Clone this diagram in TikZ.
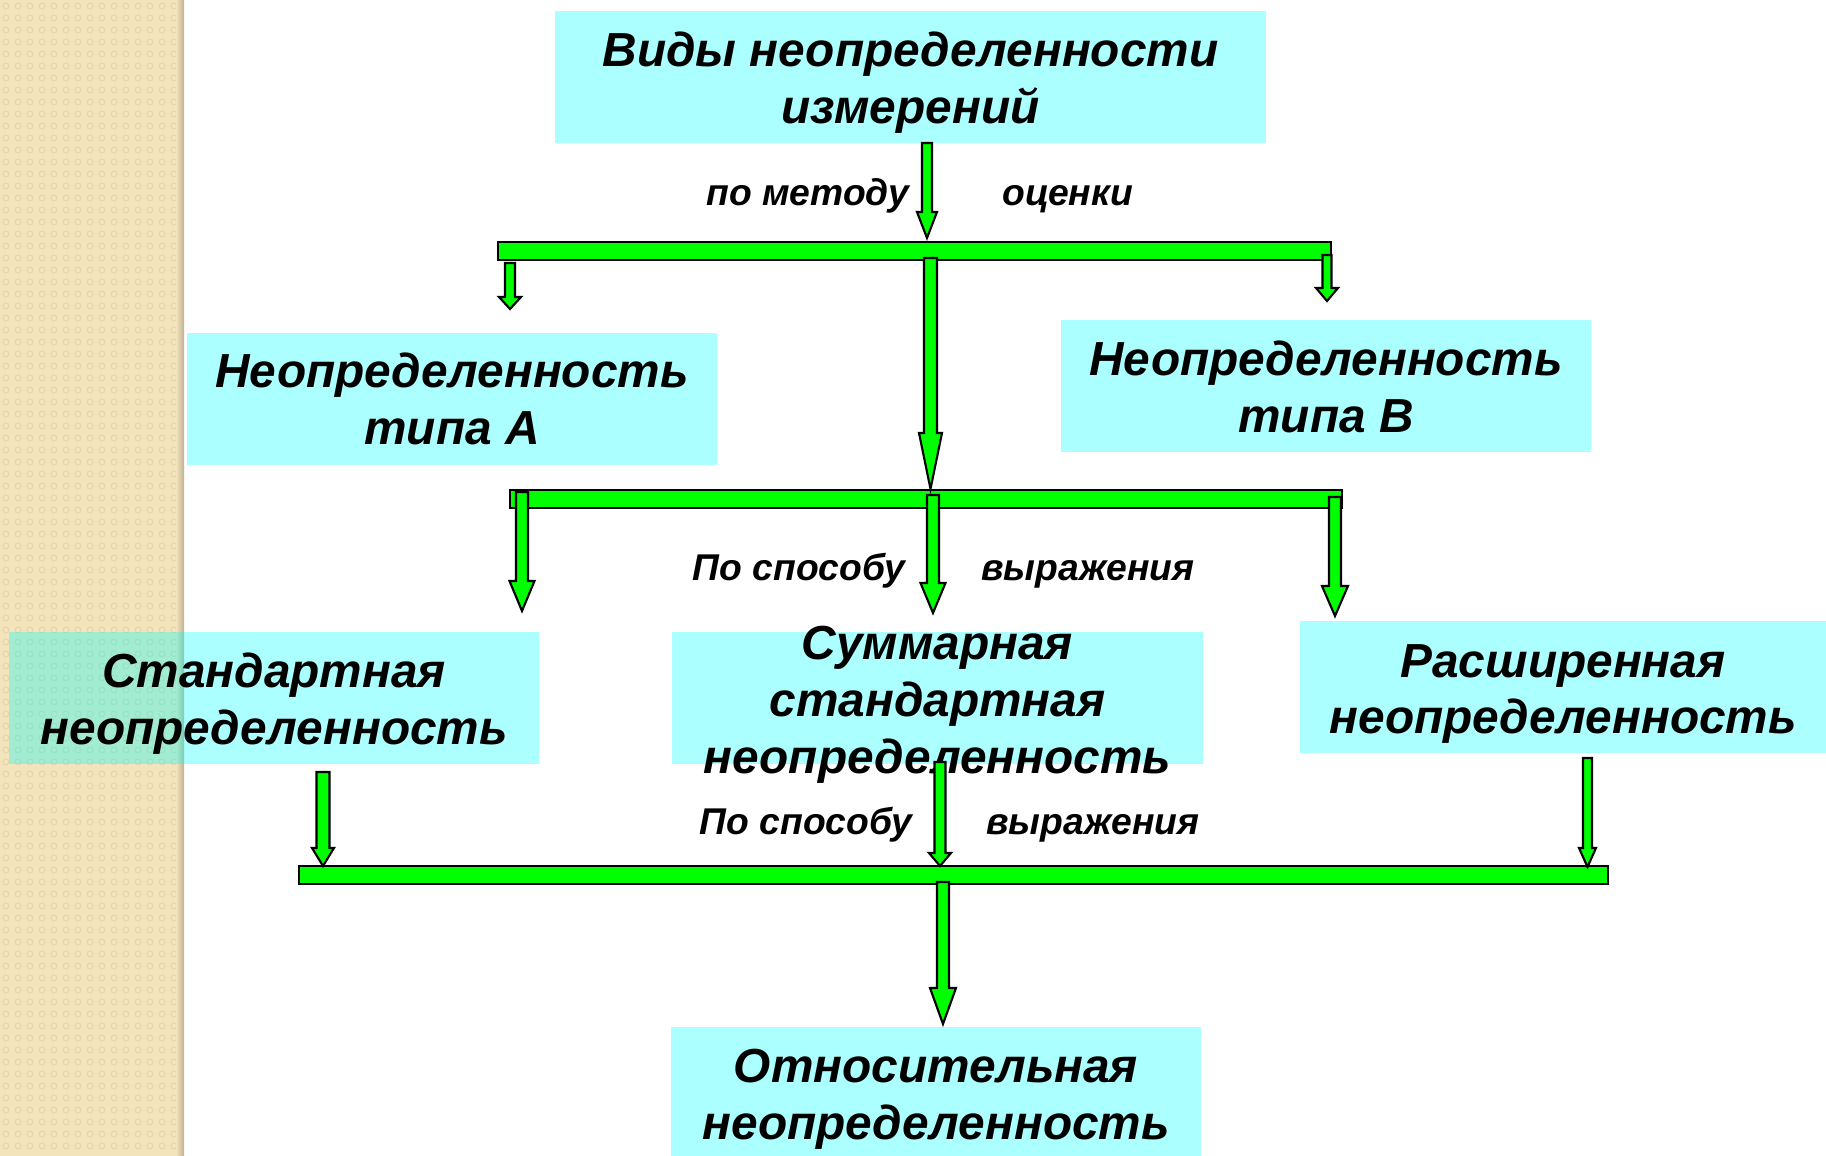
\documentclass[tikz,border=0pt]{standalone}
\usepackage{fontspec}
\setmainfont{Liberation Sans}
\usetikzlibrary{calc,positioning}

\definecolor{boxcyan}{RGB}{0,255,255}
\definecolor{barg}{RGB}{0,255,0}
\definecolor{strip}{RGB}{243,228,187}

\tikzset{
  box/.style={fill=boxcyan, fill opacity=.33, inner sep=0, minimum height=1.32cm},
  btxt/.style={align=center, inner sep=0, font=\fontsize{13.6}{16.2}\selectfont\bfseries\itshape},
  lbl/.style={inner sep=0, text height=1.5ex, text depth=.3ex,
    font=\fontsize{10.6}{12}\selectfont\bfseries\itshape},
  bar/.style={draw=black, line width=0.6pt, fill=barg, inner sep=0, minimum height=0.18cm},
  blk/.style={draw=black, line width=0.6pt, fill=barg, line join=miter},
}

% block arrow: from, to, half shaft, half head, head length
\newcommand{\blkarrow}[5]{%
  \draw[blk] let \p1=(#1), \p2=(#2) in
    (\x1-#3,\y1) -- (\x1+#3,\y1) -- (\x1+#3,\y2+#5) -- (\x1+#4,\y2+#5)
    -- (\x1,\y2) -- (\x1-#4,\y2+#5) -- (\x1-#3,\y2+#5) -- cycle;}

\begin{document}
\begin{tikzpicture}
\useasboundingbox (0,0) rectangle (18.26,-11.56);

% left strip
\fill[strip] (0,0) rectangle (1.84,-11.56);
\foreach \i in {0,...,14}
  \foreach \j in {0,...,95}
    \draw[strip!94!black, line width=.3pt] (\i*0.12+0.06,-\j*0.12-0.06) circle (0.03);
\shade[left color=strip, right color=strip!78!black] (1.76,0) rectangle (1.84,-11.56);

% boxes
\foreach \nm/\x/\y/\w in {top/9.105/-0.775/7.11, typeA/4.52/-3.99/5.30,
    typeB/13.26/-3.86/5.30, std/2.74/-6.985/5.30, sum/9.375/-6.985/5.31,
    ext/15.63/-6.87/5.26, rel/9.36/-10.93/5.30}
  \node[box, minimum width=\w cm] (\nm) at (\x,\y) {};

\node[btxt, yshift=-0.05cm] (topT) at (top) {Виды неопределенности\\измерений};
\node[btxt] (typeAT) at (typeA) {Неопределенность\\типа А};
\node[btxt, yshift=-0.01cm] (typeBT) at (typeB) {Неопределенность\\типа В};
\node[btxt, yshift=-0.05cm] (stdT) at (std) {Стандартная\\неопределенность};
\node[btxt, yshift=-0.06cm] (sumT) at (sum) {Суммарная\\стандартная\\неопределенность};
\node[btxt, yshift=-0.07cm] (extT) at (ext) {Расширенная\\неопределенность};
\node[btxt, yshift=-0.06cm] (relT) at (rel) {Относительная\\неопределенность};

% bars
\node[bar, minimum width=8.33cm] (bar1) at (9.145,-2.51) {};
\node[bar, minimum width=8.32cm] (bar2) at (9.26,-4.99) {};
\node[bar, minimum width=13.09cm] (bar3) at (9.535,-8.75) {};

% labels
\node[lbl] (m1) at (8.08,-1.94) {по методу};
\node[lbl] (m2) at (10.68,-1.94) {оценки};
\node[lbl] (s1) at (7.99,-5.69) {По способу};
\node[lbl] (s2) at (10.88,-5.69) {выражения};
\node[lbl] (s3) at (8.06,-8.23) {По способу};
\node[lbl] (s4) at (10.93,-8.23) {выражения};

% arrow ends
\coordinate (a1s) at (9.27,-1.43);   \coordinate (a1e) at (9.27,-2.38);
\coordinate (a2s) at (5.10,-2.63);   \coordinate (a2e) at (5.10,-3.09);
\coordinate (a3s) at (13.27,-2.55);  \coordinate (a3e) at (13.27,-3.01);
\coordinate (a4s) at (9.305,-2.58);  \coordinate (a4e) at (9.305,-4.89);
\coordinate (a5s) at (5.22,-4.92);   \coordinate (a5e) at (5.22,-6.11);
\coordinate (a6s) at (9.33,-4.95);   \coordinate (a6e) at (9.33,-6.13);
\coordinate (a7s) at (13.35,-4.97);  \coordinate (a7e) at (13.35,-6.16);
\coordinate (a8s) at (3.23,-7.72);   \coordinate (a8e) at (3.23,-8.66);
\coordinate (a9s) at (9.40,-7.62);   \coordinate (a9e) at (9.40,-8.66);
\coordinate (a10s) at (15.875,-7.58); \coordinate (a10e) at (15.875,-8.67);
\coordinate (a11s) at (9.43,-8.82);  \coordinate (a11e) at (9.43,-10.24);

\blkarrow{a1s}{a1e}{0.05cm}{0.10cm}{0.26cm}
\blkarrow{a2s}{a2e}{0.05cm}{0.11cm}{0.12cm}
\blkarrow{a3s}{a3e}{0.045cm}{0.11cm}{0.13cm}
\blkarrow{a4s}{a4e}{0.065cm}{0.115cm}{0.56cm}
\blkarrow{a5s}{a5e}{0.06cm}{0.125cm}{0.30cm}
\blkarrow{a6s}{a6e}{0.06cm}{0.125cm}{0.30cm}
\blkarrow{a7s}{a7e}{0.06cm}{0.13cm}{0.30cm}
\blkarrow{a8s}{a8e}{0.065cm}{0.11cm}{0.18cm}
\blkarrow{a9s}{a9e}{0.055cm}{0.11cm}{0.13cm}
\blkarrow{a10s}{a10e}{0.045cm}{0.085cm}{0.19cm}
\blkarrow{a11s}{a11e}{0.06cm}{0.13cm}{0.36cm}
\end{tikzpicture}
\end{document}
